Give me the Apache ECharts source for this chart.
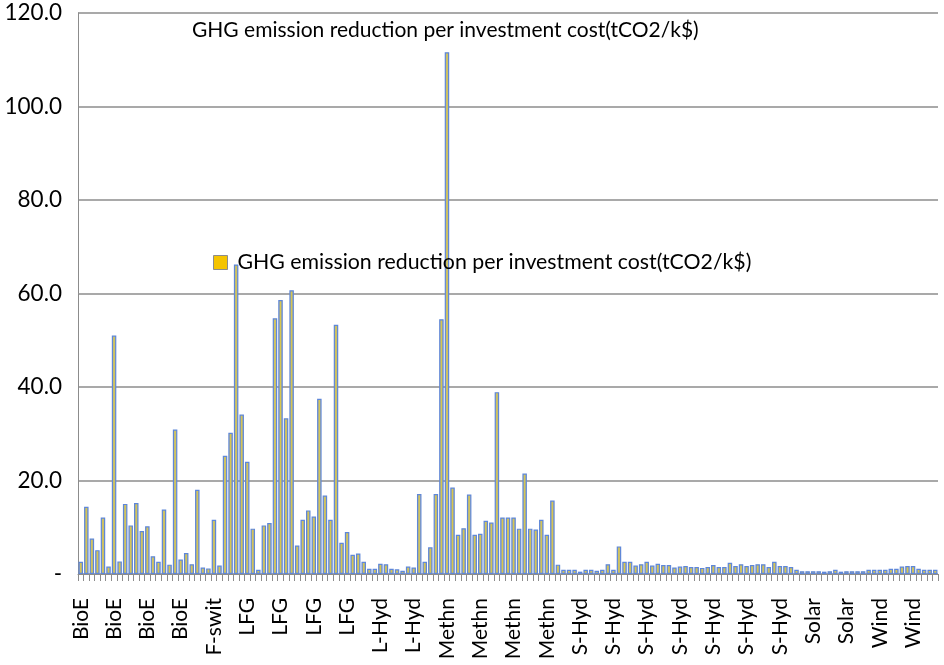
<!DOCTYPE html>
<html>
<head>
<meta charset="utf-8">
<script src="https://cdn.jsdelivr.net/npm/echarts@6/dist/echarts.min.js"></script>
<style>
html,body{margin:0;padding:0;background:#fff;}
#chart{width:944px;height:665px;}
</style>
</head>
<body>
<div id="chart"></div>
<script>
// Category groups (name, number of categories)
var groupNames = ['BioE','F-swit','LFG','L-Hyd','Methn','S-Hyd','Solar','Wind'];
var groupCounts = [24, 6, 23, 11, 24, 43, 12, 12];

var seriesName = 'GHG emission reduction per investment cost(tCO2/k$)';
var titleText = 'GHG emission reduction per investment cost(tCO2/k$)';

var values = [
  2.6, 14.4, 7.6, 5.1, 12.1, 1.6, 51.0, 2.7, 15.0, 10.4,
  15.2, 9.2, 10.2, 3.8, 2.6, 13.8, 2.0, 30.9, 3.1, 4.5,
  2.1, 18.0, 1.4, 1.2, 11.6, 1.8, 25.3, 30.2, 66.2, 34.1,
  24.0, 9.7, 0.9, 10.4, 10.9, 54.7, 58.6, 33.3, 60.7, 6.1,
  11.6, 13.6, 12.3, 37.5, 16.8, 11.6, 53.3, 6.7, 9.0, 4.1,
  4.4, 2.6, 1.1, 1.1, 2.2, 2.1, 1.1, 1.0, 0.7, 1.6,
  1.4, 17.1, 2.6, 5.7, 17.1, 54.5, 111.6, 18.5, 8.4, 9.8,
  17.0, 8.4, 8.6, 11.4, 11.0, 38.9, 12.1, 12.1, 12.1, 9.7,
  21.5, 9.7, 9.5, 11.6, 8.4, 15.7, 2.0, 0.9, 0.9, 0.9,
  0.5, 0.9, 0.9, 0.7, 0.9, 2.1, 0.9, 5.9, 2.6, 2.6,
  1.8, 2.1, 2.6, 1.8, 2.2, 1.9, 1.9, 1.4, 1.6, 1.7,
  1.5, 1.5, 1.3, 1.5, 1.9, 1.5, 1.5, 2.4, 1.7, 2.1,
  1.7, 1.9, 2.1, 2.1, 1.5, 2.6, 1.7, 1.7, 1.5, 0.9,
  0.6, 0.6, 0.6, 0.6, 0.5, 0.6, 0.9, 0.5, 0.6, 0.6,
  0.6, 0.6, 0.9, 0.9, 0.9, 0.9, 1.1, 1.1, 1.6, 1.7,
  1.7, 1.1, 0.9, 0.9, 0.9
];

var yMin = 0, yMax = 120, yStep = 20;

var categories = [];
groupNames.forEach(function (g, k) {
  for (var j = 0; j < groupCounts[k]; j++) categories.push(g);
});

var FONT = 'Lato';
var chart = echarts.init(document.getElementById('chart'), null, {renderer: 'canvas'});

var barFill = new echarts.graphic.LinearGradient(0, 0, 1, 0, [
  {offset: 0, color: '#a3acb6'},
  {offset: 0.5, color: '#d8c74e'},
  {offset: 1, color: '#a3acb6'}
]);

chart.setOption({
  animation: false,
  backgroundColor: '#ffffff',
  title: {
    text: titleText,
    left: 187,
    top: 15,
    textStyle: {fontFamily: FONT, fontSize: 21, fontWeight: 'normal', color: '#000'}
  },
  legend: {
    left: 208,
    top: 247,
    itemWidth: 14,
    itemHeight: 14,
    icon: 'rect',
    data: [{
      name: seriesName,
      itemStyle: {color: '#f5c400', borderColor: '#8c8c8c', borderWidth: 1}
    }],
    textStyle: {fontFamily: FONT, fontSize: 21.3, color: '#000', padding: [0, 0, 0, 5]}
  },
  grid: {left: 78, right: 6, top: 13, bottom: 91, containLabel: false, outerBoundsMode: 'none'},
  xAxis: {
    type: 'category',
    data: categories,
    boundaryGap: true,
    axisLine: {show: true, lineStyle: {color: '#8c8c8c', width: 1}},
    axisTick: {show: true, interval: 0, length: 7, lineStyle: {color: '#8c8c8c'}},
    axisLabel: {
      interval: 5,
      rotate: 90,
      margin: 24,
      fontFamily: FONT,
      fontSize: 21,
      color: '#000'
    }
  },
  yAxis: {
    type: 'value',
    min: yMin,
    max: yMax,
    interval: yStep,
    axisLine: {show: true, lineStyle: {color: '#8c8c8c', width: 1}},
    axisTick: {show: false},
    splitLine: {show: true, lineStyle: {color: '#8c8c8c', width: 1.5}},
    axisLabel: {
      margin: 16,
      fontFamily: FONT,
      fontSize: 22.5,
      color: '#000',
      formatter: function (v) { return v === 0 ? '-' : v.toFixed(1); }
    }
  },
  series: [{
    name: seriesName,
    type: 'bar',
    data: values,
    barWidth: 4.5,
    itemStyle: {color: barFill, borderColor: '#5f87d8', borderWidth: 1.2}
  }]
});
</script>
</body>
</html>
